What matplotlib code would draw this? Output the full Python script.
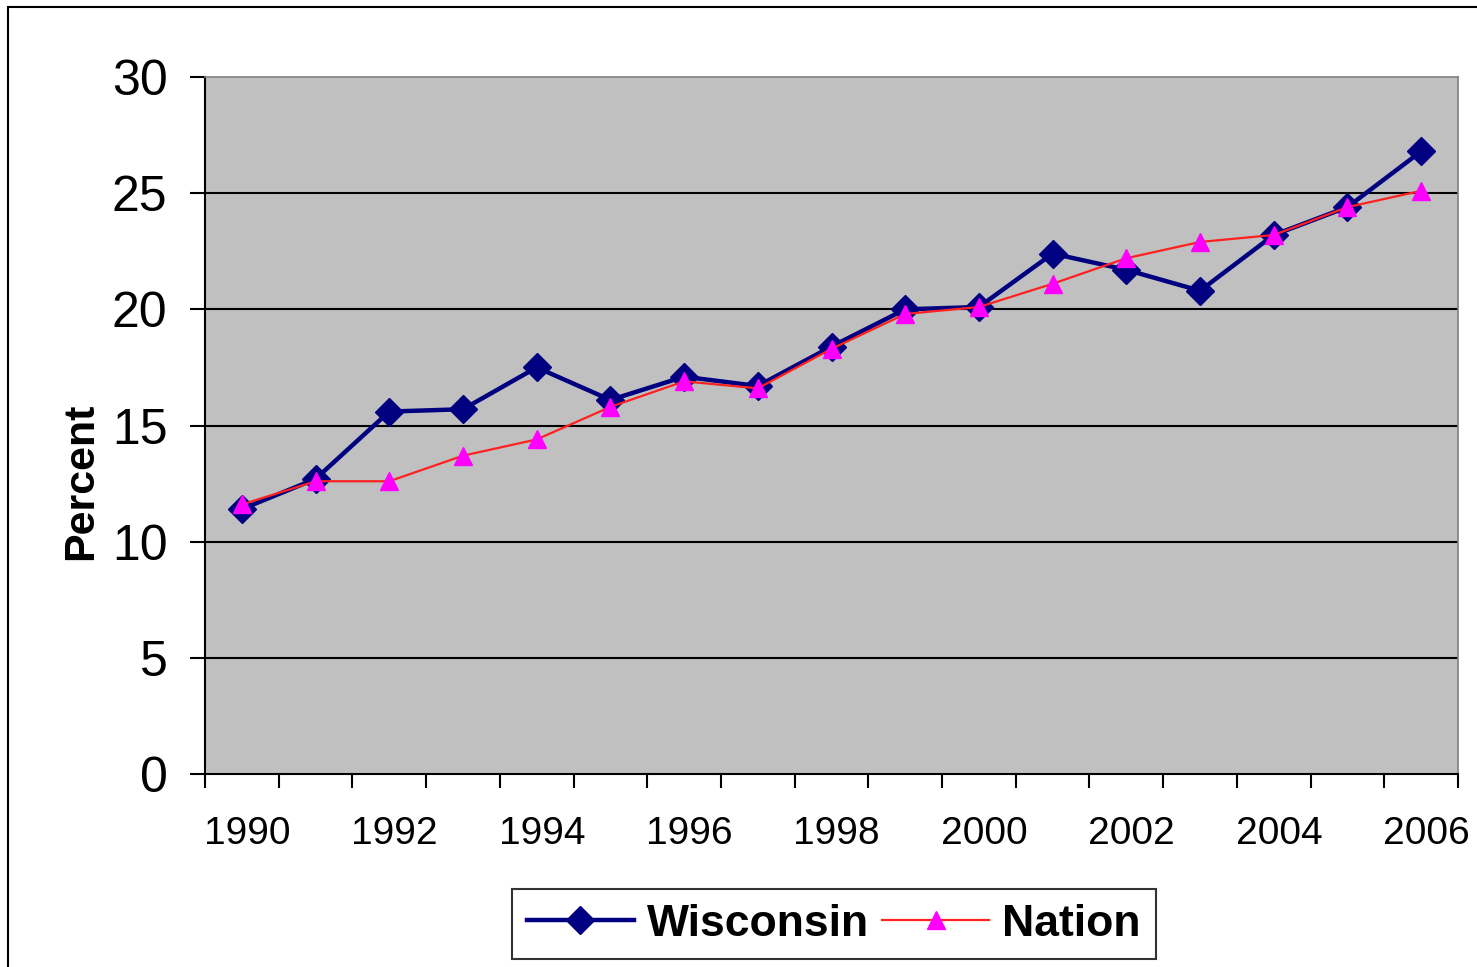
import matplotlib
matplotlib.use("Agg")
import matplotlib.pyplot as plt
from matplotlib.patches import Rectangle

years = list(range(1990, 2007))
wisconsin = [11.4, 12.7, 15.6, 15.7, 17.5, 16.1, 17.1, 16.7, 18.4, 20.0,
             20.1, 22.4, 21.7, 20.8, 23.2, 24.4, 26.8]
nation = [11.6, 12.6, 12.6, 13.7, 14.4, 15.8, 16.9, 16.6, 18.3, 19.8,
          20.1, 21.1, 22.2, 22.9, 23.2, 24.4, 25.1]
y_ticks = [0, 5, 10, 15, 20, 25, 30]

plt.rcParams["font.family"] = ["Liberation Sans", "DejaVu Sans"]

W, H = 1477, 967
fig = plt.figure(figsize=(W / 100, H / 100), dpi=100)
ax = fig.add_axes([205 / W, 1 - 774 / H, (1458 - 205) / W, (774 - 77) / H])

# outer chart frame (left and top visible)
fig.patches.append(Rectangle((8 / W, -0.1), 1.2, 1.1 - 7 / H, transform=fig.transFigure,
                             fill=False, edgecolor="black", linewidth=1.5))

ax.set_facecolor("#C0C0C0")
x = list(range(len(years)))

ax.plot(x, wisconsin, color="#000080", linewidth=3.2, marker="D",
        markersize=14, markerfacecolor="#000080", markeredgecolor="#000080",
        label="Wisconsin", zorder=3)
ax.plot(x, nation, color="#FF2020", linewidth=1.6, marker="^",
        markersize=13, markerfacecolor="#FF00FF", markeredgecolor="#FF00FF",
        label="Nation", zorder=4)

ax.set_xlim(-0.5, len(years) - 0.5)
ax.set_ylim(0, 30)

ax.set_yticks(y_ticks)
ax.set_yticklabels([str(v) for v in y_ticks], fontsize=36)
ax.tick_params(axis="y", direction="out", length=11, width=1.5, pad=16)
for v in y_ticks[1:-1]:
    ax.axhline(v, color="black", linewidth=1.5, zorder=1)

ax.set_xticks([i - 0.5 for i in range(len(years) + 1)])
ax.set_xticklabels([])
ax.tick_params(axis="x", which="major", direction="out", length=10, width=1.5)
ax.set_xticks([i + 0.07 for i in x[::2]], minor=True)
ax.set_xticklabels([str(y) for y in years[::2]], minor=True, fontsize=28)
ax.tick_params(axis="x", which="minor", length=0, pad=30)

for side in ["left", "bottom"]:
    ax.spines[side].set_color("black")
    ax.spines[side].set_linewidth(1.5)
for side in ["top", "right"]:
    ax.spines[side].set_color("#808080")
    ax.spines[side].set_linewidth(1.2)

ax.set_ylabel("Percent", fontsize=31, fontweight="bold")
ax.yaxis.set_label_coords(-0.083, 0.42)

leg = ax.legend(loc="upper center", bbox_to_anchor=(0.502, -0.133), ncol=2,
                frameon=True, fancybox=False,
                prop={"weight": "bold", "size": 32}, handlelength=2.4,
                handletextpad=0.3, columnspacing=0.3, borderpad=0.33)
leg.get_frame().set_edgecolor("black")
leg.get_frame().set_linewidth(1.5)

fig.savefig("out.png", dpi=100)
